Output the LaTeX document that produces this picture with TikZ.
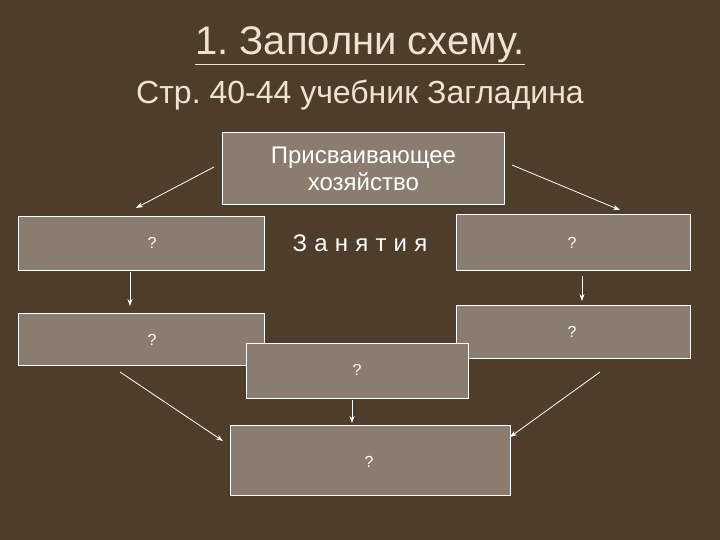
\documentclass[tikz,border=0pt]{standalone}
\usepackage{fontspec}
\setmainfont{Liberation Sans}
\usetikzlibrary{arrows.meta}
\definecolor{bg}{HTML}{4E3D2A}
\definecolor{boxf}{HTML}{8A7D70}
\definecolor{txt}{HTML}{EDE3D3}
\frenchspacing
\begin{document}
\begin{tikzpicture}[x=1pt,y=-1pt,
  bx/.style={draw=white,line width=0.8pt,fill=boxf,anchor=north west,inner sep=0pt},
  q/.style={text=white,font=\fontsize{16}{18}\selectfont},
  ar/.style={draw=white,line width=0.8pt,-{Stealth[length=7pt,width=5pt]}}]
\fill[bg] (0,0) rectangle (720,540);
\useasboundingbox (0,0) rectangle (720,540);
\node[text=txt,font=\fontsize{40}{44}\selectfont] (t1) at (360,46) {\underline{1. Заполни схему.}};
\node[text=txt,font=\fontsize{32}{36}\selectfont] (t2) at (360,95) {Стр. 40-44 учебник Загладина};
\node[bx,minimum width=282pt,minimum height=72pt] (top) at (222,132) {};
\node[text=white,align=center,font=\fontsize{24}{27}\selectfont] at (top.center) {Присваивающее\\хозяйство};
\node[bx,minimum width=246pt,minimum height=54pt] (l1) at (18,216) {};
\node[q] at (152,243) {?};
\node[bx,minimum width=234pt,minimum height=56pt] (r1) at (456,214) {};
\node[q] at (572,243) {?};
\node[bx,minimum width=246pt,minimum height=52pt] (l2) at (18,313) {};
\node[q] at (152,340) {?};
\node[bx,minimum width=234pt,minimum height=53pt] (r2) at (456,305) {};
\node[q] at (572,332) {?};
\node[bx,minimum width=222pt,minimum height=55pt] (m) at (246,343) {};
\node[q] at (357,370) {?};
\node[bx,minimum width=280pt,minimum height=70pt] (b) at (230,425) {};
\node[q] at (369,462) {?};
\node[text=white,font=\fontsize{24}{28}\selectfont] (z) at (360,243) {З\hspace{0.3em}а\hspace{0.3em}н\hspace{0.3em}я\hspace{0.3em}т\hspace{0.3em}и\hspace{0.3em}я};
\coordinate (a1) at (214,167); \coordinate (a1e) at (136,208);
\coordinate (a2) at (512,165); \coordinate (a2e) at (620,210);
\coordinate (a3) at (130,272); \coordinate (a3e) at (130,306);
\coordinate (a4) at (582,276); \coordinate (a4e) at (582,301);
\coordinate (a5) at (352,400); \coordinate (a5e) at (352,423);
\coordinate (a6) at (120,372); \coordinate (a6e) at (223,441);
\coordinate (a7) at (600,372); \coordinate (a7e) at (510,437);
\foreach \s in {1,...,7} {\draw[ar] (a\s) -- (a\s e);}
\end{tikzpicture}
\end{document}
